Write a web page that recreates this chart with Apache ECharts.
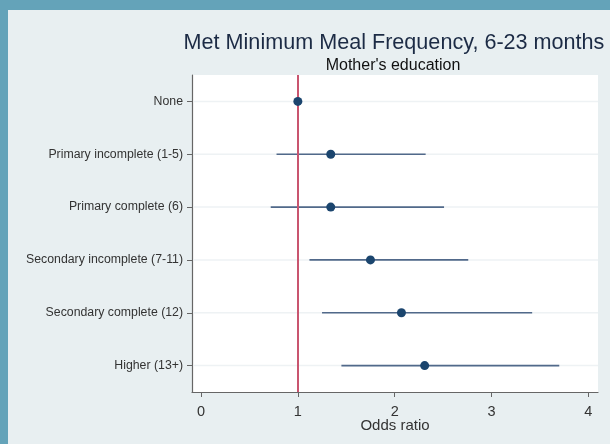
<!DOCTYPE html>
<html>
<head>
<meta charset="utf-8">
<script src="https://cdn.jsdelivr.net/npm/echarts@6/dist/echarts.min.js"></script>
<style>
  html, body { margin: 0; padding: 0; background: #e8eff1; }
  #chart { width: 610px; height: 444px; }
</style>
</head>
<body>
<div id="chart"></div>
<script>
// Mother's education categories, top to bottom
const categories = [
  'None',
  'Primary incomplete (1-5)',
  'Primary complete (6)',
  'Secondary incomplete (7-11)',
  'Secondary complete (12)',
  'Higher (13+)'
];
// Odds ratio estimates and 95% confidence bounds
const oddsRatio = [1.00, 1.34, 1.34, 1.75, 2.07, 2.31];
const ciLower   = [null, 0.78, 0.72, 1.12, 1.25, 1.45];
const ciUpper   = [null, 2.32, 2.51, 2.76, 3.42, 3.70];
const xTicks = [0, 1, 2, 3, 4];
const referenceLine = 1;

const chart = echarts.init(document.getElementById('chart'), null, { renderer: 'canvas' });

const ciData = categories.map((c, i) => [ciLower[i], ciUpper[i], i]).filter(d => d[0] != null);
const pointData = categories.map((c, i) => [oddsRatio[i], i]);
const gridData = categories.map((c, i) => [i]);

const FONT = 'Liberation Sans, Arial, sans-serif';

chart.setOption({
  backgroundColor: '#e8eff1',
  animation: false,
  textStyle: { fontFamily: FONT },
  graphic: [
    { type: 'rect', shape: { x: 0, y: 0, width: 610, height: 10 }, style: { fill: '#64a3b9' }, z: -10 },
    { type: 'rect', shape: { x: 0, y: 0, width: 8, height: 444 }, style: { fill: '#64a3b9' }, z: -10 }
  ],
  title: [
    {
      text: 'Met Minimum Meal Frequency, 6-23 months',
      left: 389, top: 27, textAlign: 'center',
      textStyle: { fontSize: 21.6, fontWeight: 'normal', color: '#1c2b45', fontFamily: FONT }
    },
    {
      text: "Mother's education",
      left: 388, top: 53, textAlign: 'center',
      textStyle: { fontSize: 16, fontWeight: 'normal', color: '#111', fontFamily: FONT }
    }
  ],
  grid: { left: 192, top: 75, right: 12, bottom: 52, backgroundColor: '#ffffff', show: true, borderWidth: 0 },
  xAxis: {
    type: 'value',
    min: -0.093, max: 4.1,
    name: 'Odds ratio',
    nameLocation: 'middle',
    nameGap: 26,
    nameMoveOverlap: false,
    nameTextStyle: { fontSize: 15, color: '#333' },
    axisLine: { show: true, onZero: false, lineStyle: { color: '#666', width: 1.2 } },
    axisTick: { show: true, customValues: xTicks, length: 5, lineStyle: { color: '#666' } },
    axisLabel: { customValues: xTicks, fontSize: 14.5, color: '#333', margin: 12 },
    splitLine: { show: false }
  },
  yAxis: {
    type: 'category',
    data: categories,
    inverse: true,
    boundaryGap: true,
    axisLine: { show: true, onZero: false, lineStyle: { color: '#666', width: 1.2 } },
    axisTick: { show: true, alignWithLabel: true, length: 5, lineStyle: { color: '#666' } },
    axisLabel: { fontSize: 12.3, color: '#333', margin: 9 },
    splitLine: { show: false }
  },
  series: [
    {
      // faint horizontal guide at each category
      type: 'custom',
      coordinateSystem: 'cartesian2d',
      data: gridData,
      silent: true,
      z: 1,
      encode: { y: 0 },
      renderItem: function (params, api) {
        const cs = params.coordSys;
        const y = api.coord([0, api.value(0)])[1];
        return {
          type: 'line',
          shape: { x1: cs.x + 1, y1: y, x2: cs.x + cs.width, y2: y },
          style: { stroke: '#eef2f4', lineWidth: 1.5 }
        };
      }
    },
    {
      type: 'custom',
      coordinateSystem: 'cartesian2d',
      data: ciData,
      z: 3,
      encode: { x: [0, 1], y: 2 },
      renderItem: function (params, api) {
        const a = api.coord([api.value(0), api.value(2)]);
        const b = api.coord([api.value(1), api.value(2)]);
        return {
          type: 'line',
          shape: { x1: a[0], y1: a[1], x2: b[0], y2: b[1] },
          style: { stroke: '#51698a', lineWidth: 1.6 }
        };
      }
    },
    {
      type: 'scatter',
      data: pointData,
      symbol: 'circle',
      symbolSize: 9,
      z: 5,
      itemStyle: { color: '#1b456e', opacity: 1 },
      markLine: {
        silent: true,
        symbol: 'none',
        label: { show: false },
        lineStyle: { color: '#c9556f', width: 2, type: 'solid' },
        data: [{ xAxis: referenceLine }]
      }
    }
  ]
});
</script>
</body>
</html>
